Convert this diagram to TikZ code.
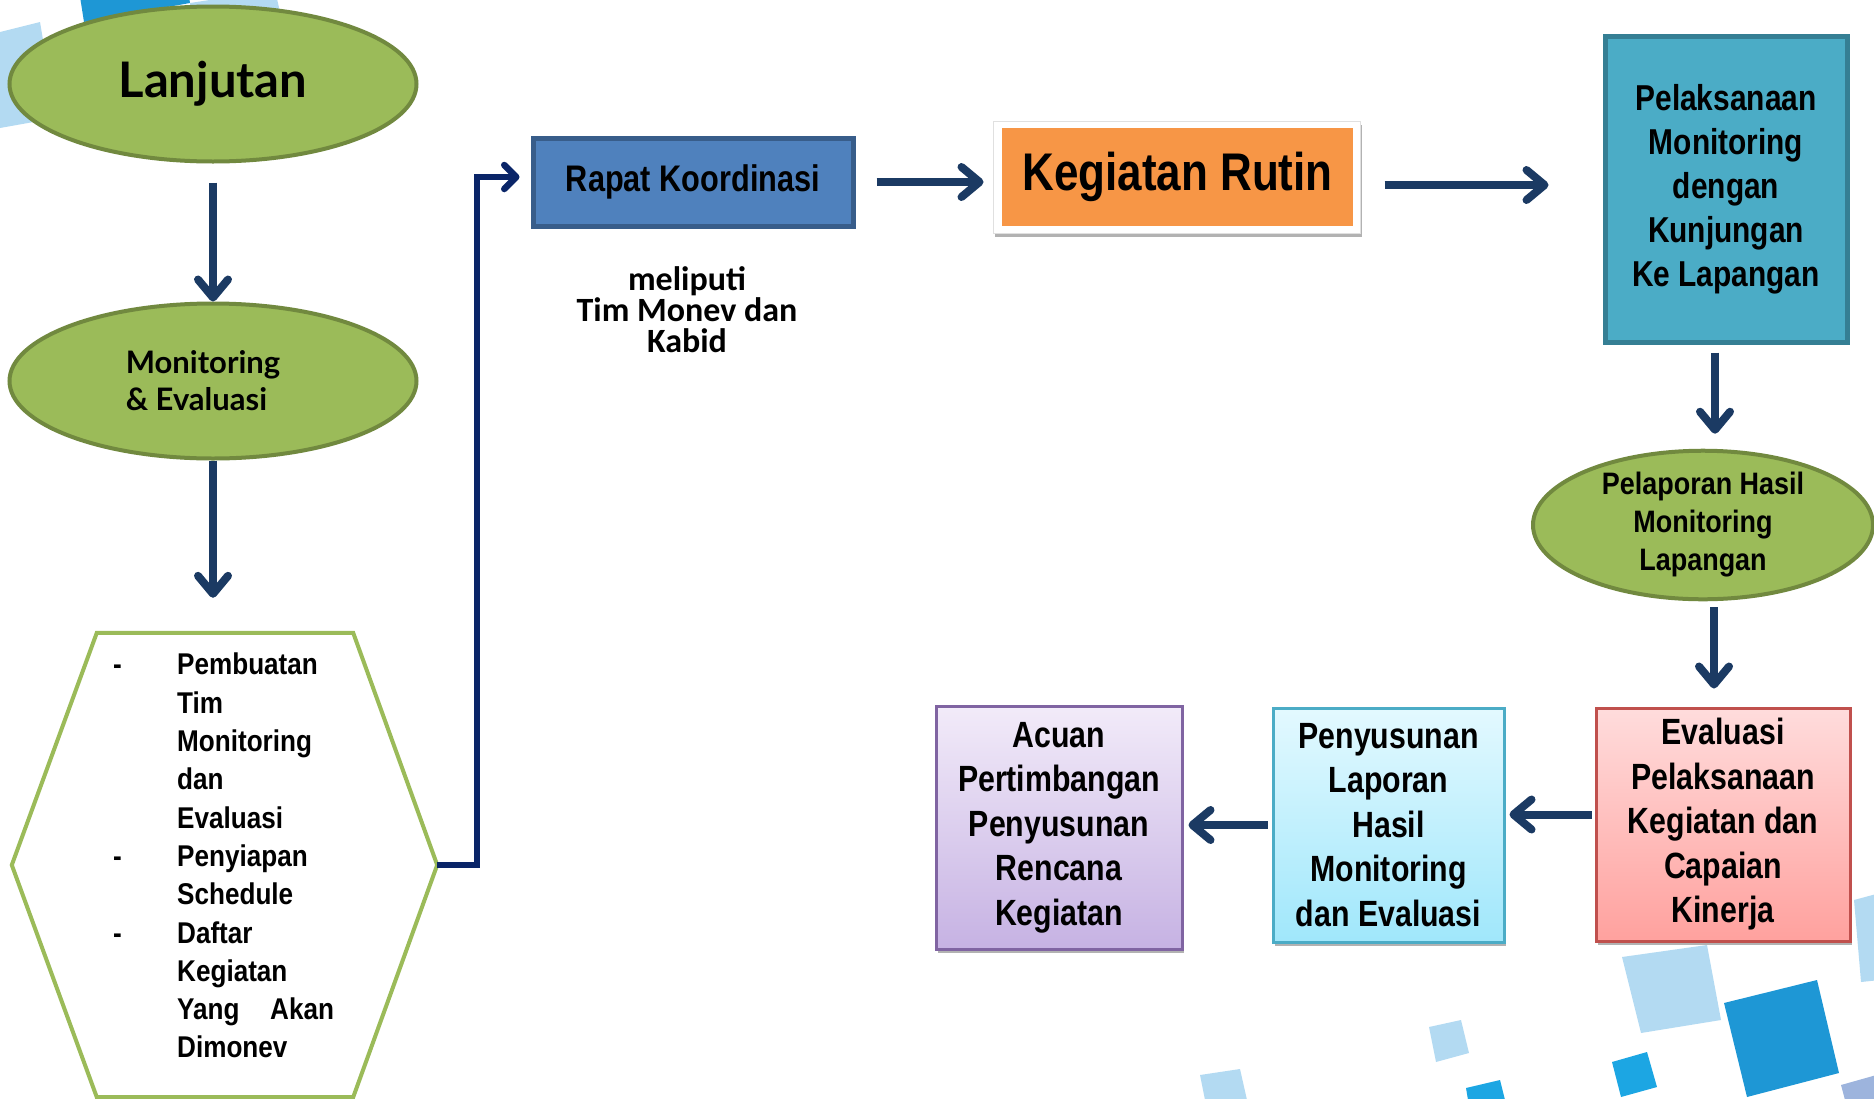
\documentclass[tikz,border=0pt]{standalone}
\usepackage{fontspec}
\setmainfont{Liberation Sans}
\newfontfamily\nb[FakeStretch=0.83]{Liberation Sans}
\newfontfamily\nbh[FakeStretch=0.87]{Liberation Sans}
\newfontfamily\hum{Lato}
\newfontfamily\carli{Carlito}
\usetikzlibrary{arrows.meta,shapes.geometric,shadows}
\definecolor{gfill}{HTML}{9BBB59}
\definecolor{gdraw}{HTML}{71893F}
\definecolor{navy}{HTML}{1B3A63}
\definecolor{elbc}{HTML}{0A2568}
\definecolor{rapfill}{HTML}{4F81BD}
\definecolor{rapdraw}{HTML}{385D8A}
\definecolor{orng}{HTML}{F79646}
\definecolor{tealf}{HTML}{4BACC6}
\definecolor{tealdraw}{HTML}{357F94}
\definecolor{redtop}{HTML}{FFDCDC}
\definecolor{redbot}{HTML}{FFA19E}
\definecolor{reddraw}{HTML}{C0504D}
\definecolor{cyantop}{HTML}{E3F9FF}
\definecolor{cyanbot}{HTML}{A0E7FB}
\definecolor{cyandraw}{HTML}{4BACC6}
\definecolor{purtop}{HTML}{F2EBF9}
\definecolor{purbot}{HTML}{C6B2E3}
\definecolor{purdraw}{HTML}{8064A2}
\definecolor{sqlight}{HTML}{B3DAF2}
\definecolor{sqmid}{HTML}{1E97D5}
\definecolor{sqbright}{HTML}{1CA6E3}
\definecolor{sqgray}{HTML}{9DB4DD}
\tikzset{
  ell/.style={ellipse, fill=gfill, draw=gdraw, line width=4pt, inner sep=0pt, align=center},
  arr/.style={draw=navy, line width=8pt, -{Straight Barb[length=18pt,width=30pt,round]}},
  elb/.style={draw=elbc, line width=6.5pt, -{Straight Barb[length=12pt,width=24pt,round]}},
  boxtxt/.style={font=\nb\bfseries\fontsize{36.5pt}{44.5pt}\selectfont, align=center, text=black},
  shadowed/.style={drop shadow={shadow xshift=2pt, shadow yshift=-4pt, opacity=0.3, fill=black}},
  gbox/.style={rectangle, line width=3pt, inner sep=0pt, shadowed, boxtxt}
}
\begin{document}
\begin{tikzpicture}[x=1pt, y=-1pt]
\useasboundingbox (0,0) rectangle (1874,1098);
% background decoration
\begin{scope}
\clip (0,0) rectangle (1874,1098);
\fill[sqlight] (0,32) -- (40,22) -- (56,118) -- (0,128) -- cycle;
\fill[sqmid] (84,22) -- (190,3) -- (175,-100) -- (68,-80) -- cycle;
\fill[sqlight] (190,3) -- (275,-10) -- (280,12) -- (192,16) -- cycle;
\fill[sqlight] (1622,957) -- (1707,945) -- (1721,1020) -- (1641,1033) -- cycle;
\fill[sqmid] (1724,1003) -- (1817,980) -- (1839,1073) -- (1747,1097) -- cycle;
\fill[sqbright] (1612,1062) -- (1647,1052) -- (1657,1087) -- (1621,1097) -- cycle;
\fill[sqlight] (1429,1027) -- (1461,1020) -- (1469,1053) -- (1436,1062) -- cycle;
\fill[sqlight] (1854,900) -- (1880,893) -- (1880,980) -- (1861,982) -- cycle;
\fill[sqgray] (1841,1085) -- (1880,1074) -- (1880,1100) -- (1845,1100) -- cycle;
\fill[sqbright] (1466,1088) -- (1500,1080) -- (1505,1100) -- (1468,1100) -- cycle;
\fill[sqlight] (1200,1075) -- (1240,1069) -- (1247,1100) -- (1205,1100) -- cycle;
\end{scope}

% left column
\node[ell, minimum width=407pt, minimum height=155pt,
  font=\hum\bfseries\fontsize{49pt}{58pt}\selectfont] (lanj) at (213,84) {Lanjutan};
\node[ell, minimum width=407pt, minimum height=155pt, align=left,
  font=\hum\bfseries\fontsize{31pt}{37pt}\selectfont] (mon) at (213,381)
  {\hspace*{-20pt}Monitoring\\\hspace*{-20pt}\& Evaluasi};
\node[minimum width=425pt, minimum height=464pt, inner sep=0pt] (hex) at (224.5,865) {};
\draw[draw=gfill, line width=4pt, fill=white, line join=miter]
  (hex.west) -- ([xshift=85pt]hex.north west) -- ([xshift=-84pt]hex.north east)
  -- (hex.east) -- ([xshift=-84pt]hex.south east) -- ([xshift=85pt]hex.south west) -- cycle;
\node[anchor=north west, inner sep=0pt, align=left,
  font=\nbh\bfseries\fontsize{30pt}{38.3pt}\selectfont] (hextext) at (113,653)
  {\makebox[64pt][l]{-}Pembuatan\\
   \hspace*{64pt}Tim\\
   \hspace*{64pt}Monitoring\\
   \hspace*{64pt}dan\\
   \hspace*{64pt}Evaluasi\\
   \makebox[64pt][l]{-}Penyiapan\\
   \hspace*{64pt}Schedule\\
   \makebox[64pt][l]{-}Daftar\\
   \hspace*{64pt}Kegiatan\\
   \hspace*{64pt}\makebox[93pt][l]{Yang}Akan\\
   \hspace*{64pt}Dimonev};

% top row
\node[rectangle, fill=rapfill, draw=rapdraw, line width=5pt, minimum width=320pt,
  minimum height=88pt, inner sep=0pt, font=\nb\bfseries\fontsize{37pt}{44pt}\selectfont]
  (rapat) at (693,182) {Rapat Koordinasi};
\node[align=center, inner sep=0pt, font=\carli\bfseries\fontsize{34pt}{31pt}\selectfont]
  (mel) at (687,310) {meliputi\\Tim Monev dan\\Kabid};
\node[rectangle, fill=white, draw=black!12, line width=1pt, minimum width=367pt,
  minimum height=112pt, shadowed] (kr) at (1176.5,177) {};
\node[rectangle, fill=orng, minimum width=351pt, minimum height=98pt, inner sep=0pt,
  font=\nb\bfseries\fontsize{53pt}{60pt}\selectfont] (krin) at (1177.5,177) {Kegiatan Rutin};
\node[rectangle, fill=tealf, draw=tealdraw, line width=5pt, minimum width=242pt,
  minimum height=306pt, inner sep=0pt, boxtxt, font=\nb\bfseries\fontsize{36pt}{44pt}\selectfont]
  (pel) at (1726,189) {Pelaksanaan\\Monitoring\\dengan\\Kunjungan\\Ke Lapangan};
\node[ell, minimum width=340pt, minimum height=137pt,
  font=\nbh\bfseries\fontsize{31pt}{38pt}\selectfont]
  (pelap) at (1703,525) {Pelaporan Hasil\\Monitoring\\Lapangan};

% bottom row
\node[gbox, top color=redtop, bottom color=redbot, draw=reddraw,
  minimum width=254pt, minimum height=233pt] (eval) at (1723,824.5)
  {Evaluasi\\Pelaksanaan\\Kegiatan dan\\Capaian\\Kinerja};
\node[gbox, top color=cyantop, bottom color=cyanbot, draw=cyandraw,
  minimum width=231pt, minimum height=234pt] (pen) at (1388.5,825)
  {Penyusunan\\Laporan\\Hasil\\Monitoring\\dan Evaluasi};
\node[gbox, top color=purtop, bottom color=purbot, draw=purdraw,
  minimum width=246pt, minimum height=243pt] (acu) at (1059,827.5)
  {Acuan\\Pertimbangan\\Penyusunan\\Rencana\\Kegiatan};

% connectors
\draw[arr] ([yshift=-19pt]lanj.south) -- (mon.north);
\coordinate (a2e) at ([yshift=35pt]hex.north);
\draw[arr] (mon.south) -- (mon.south |- a2e);
\coordinate (elbend) at ([xshift=-11pt,yshift=5pt]rapat.west);
\draw[elb, line join=miter] (hex.east) -- ([xshift=40pt]hex.east) |- (elbend);
\coordinate (a3s) at ([xshift=21pt]rapat.east);
\coordinate (a3e) at ([xshift=-9pt]kr.west);
\draw[arr] (a3s) -- (a3s -| a3e);
\coordinate (a4s) at ([xshift=24pt,yshift=-8pt]kr.east);
\coordinate (a4e) at ([xshift=-54pt]pel.west);
\draw[arr] (a4s) -- (a4s -| a4e);
\coordinate (a5s) at ([xshift=-11pt,yshift=-8pt]pel.south);
\coordinate (a5e) at ([yshift=15pt]pelap.north);
\draw[arr] (a5s) -- (a5s |- a5e);
\coordinate (a6s) at ([xshift=11pt,yshift=-6pt]pelap.south);
\coordinate (a6e) at ([yshift=18pt]eval.north);
\draw[arr] (a6s) -- (a6s |- a6e);
\coordinate (a7s) at ([xshift=-3pt,yshift=10pt]eval.west);
\coordinate (a7e) at ([xshift=4pt]pen.east);
\draw[arr] (a7s) -- (a7s -| a7e);
\coordinate (a8s) at ([xshift=-4pt]pen.west);
\coordinate (a8e) at ([xshift=5pt]acu.east);
\draw[arr] (a8s) -- (a8s -| a8e);
\end{tikzpicture}
\end{document}
